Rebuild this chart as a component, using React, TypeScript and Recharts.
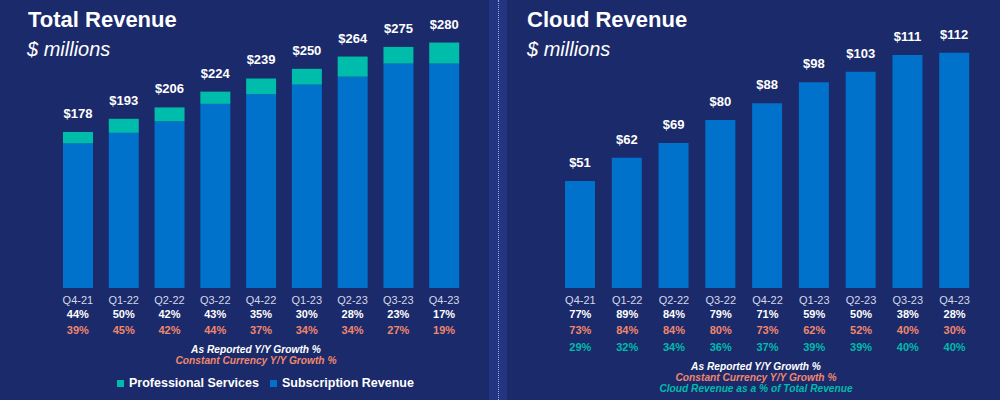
import { BarChart, Bar, XAxis, YAxis, LabelList } from 'recharts';

// quarters shared by both panels
const quarters = ['Q4-21', 'Q1-22', 'Q2-22', 'Q3-22', 'Q4-22', 'Q1-23', 'Q2-23', 'Q3-23', 'Q4-23'];

// Total revenue ($M)
const totalRevenue = [178, 193, 206, 224, 239, 250, 264, 275, 280];
const professionalServices = [13, 16, 16, 14, 18, 18, 23, 19, 24];
const totalGrowth = ['44%', '50%', '42%', '43%', '35%', '30%', '28%', '23%', '17%'];
const totalGrowthCC = ['39%', '45%', '42%', '44%', '37%', '34%', '34%', '27%', '19%'];

// Cloud revenue ($M)
const cloudRevenue = [51, 62, 69, 80, 88, 98, 103, 111, 112];
const cloudGrowth = ['77%', '89%', '84%', '79%', '71%', '59%', '50%', '38%', '28%'];
const cloudGrowthCC = ['73%', '84%', '84%', '80%', '73%', '62%', '52%', '40%', '30%'];
const cloudShare = ['29%', '32%', '34%', '36%', '37%', '39%', '39%', '40%', '40%'];

const BG = '#1b2a6b';
const BLUE = '#0172cb';
const TEAL = '#00bcab';
const SALMON = '#f0876c';
const FONT = '"Liberation Sans", Arial, sans-serif';

const totalData = quarters.map((q, i) => ({
  quarter: q,
  subscription: totalRevenue[i] - professionalServices[i],
  services: professionalServices[i],
  total: totalRevenue[i],
}));

const cloudData = quarters.map((q, i) => ({
  quarter: q,
  cloud: cloudRevenue[i],
}));

const dollar = (v: any) => '$' + v;

function makeTick(rows: { values: string[]; color: string }[]) {
  return (props: any) => {
    const { x, y, payload } = props;
    const i = payload.index;
    return (
      <g>
        <text x={x} y={y + 15.5} textAnchor="middle" fill="#d3d8ea" fontSize={11} fontFamily={FONT}>
          {payload.value}
        </text>
        {rows.map((r, k) => (
          <text key={k} x={x} y={y + 29.5 + k * 16.8} textAnchor="middle" fill={r.color}
            fontSize={11} fontWeight="bold" fontFamily={FONT}>
            {r.values[i]}
          </text>
        ))}
      </g>
    );
  };
}

const totalTick = makeTick([
  { values: totalGrowth, color: '#ffffff' },
  { values: totalGrowthCC, color: SALMON },
]);

const cloudTick = makeTick([
  { values: cloudGrowth, color: '#ffffff' },
  { values: cloudGrowthCC, color: SALMON },
  { values: cloudShare, color: TEAL },
]);

const title: React.CSSProperties = {
  position: 'absolute', fontFamily: FONT, fontWeight: 'bold', fontSize: 22, color: '#fff', margin: 0, lineHeight: 1,
};
const sub: React.CSSProperties = {
  position: 'absolute', fontFamily: FONT, fontStyle: 'italic', fontSize: 20, color: '#fff', lineHeight: 1,
};
const note: React.CSSProperties = {
  position: 'absolute', fontFamily: FONT, fontStyle: 'italic', fontWeight: 'bold', fontSize: 10.2,
  textAlign: 'center', width: 300, lineHeight: 1,
};

export default function App() {
  return (
    <div style={{ position: 'absolute', left: 0, top: 0, width: 1000, height: 400, background: BG, overflow: 'hidden' }}>
      {/* divider strip */}
      <div style={{ position: 'absolute', left: 489, top: 0, width: 18, height: 400, background: '#233480' }} />
      <div style={{ position: 'absolute', left: 497.5, top: 0, width: 0, height: 400, borderLeft: '1.5px dotted #9aa8dc' }} />

      <div style={{ ...title, left: 28, top: 9 }}>Total Revenue</div>
      <div style={{ ...sub, left: 27, top: 39 }}>$ millions</div>
      <div style={{ ...title, left: 527, top: 9 }}>Cloud Revenue</div>
      <div style={{ ...sub, left: 527, top: 39 }}>$ millions</div>

      <div style={{ position: 'absolute', left: 0, top: 0 }}>
        <BarChart width={490} height={400} data={totalData}
          margin={{ top: 25, right: 23, left: 55, bottom: 0 }} barCategoryGap={0}>
          <XAxis dataKey="quarter" axisLine={false} tickLine={false} tickSize={0} tickMargin={0}
            height={112} interval={0} tick={totalTick} />
          <YAxis hide domain={[0, 300]} />
          <Bar dataKey="subscription" stackId="a" fill={BLUE} barSize={30} isAnimationActive={false} />
          <Bar dataKey="services" stackId="a" fill={TEAL} barSize={30} isAnimationActive={false}>
            <LabelList dataKey="total" position="top" offset={14} formatter={dollar}
              fill="#fff" fontSize={13} fontWeight="bold" fontFamily={FONT} />
          </Bar>
        </BarChart>
      </div>

      <div style={{ position: 'absolute', left: 500, top: 0 }}>
        <BarChart width={500} height={400} data={cloudData}
          margin={{ top: 36, right: 22, left: 57, bottom: 0 }} barCategoryGap={0}>
          <XAxis dataKey="quarter" axisLine={false} tickLine={false} tickSize={0} tickMargin={0}
            height={112} interval={0} tick={cloudTick} />
          <YAxis hide domain={[0, 120]} />
          <Bar dataKey="cloud" fill={BLUE} barSize={30} isAnimationActive={false}>
            <LabelList dataKey="cloud" position="top" offset={14} formatter={dollar}
              fill="#fff" fontSize={13} fontWeight="bold" fontFamily={FONT} />
          </Bar>
        </BarChart>
      </div>

      <div style={{ ...note, left: 106, top: 345, color: '#fff' }}>As Reported Y/Y Growth %</div>
      <div style={{ ...note, left: 106, top: 356, color: SALMON }}>Constant Currency Y/Y Growth %</div>
      <div style={{ ...note, left: 606, top: 362, color: '#fff' }}>As Reported Y/Y Growth %</div>
      <div style={{ ...note, left: 606, top: 373, color: SALMON }}>Constant Currency Y/Y Growth %</div>
      <div style={{ ...note, left: 606, top: 384, color: TEAL }}>Cloud Revenue as a % of Total Revenue</div>

      <div style={{ position: 'absolute', left: 117, top: 376, fontFamily: FONT, fontWeight: 'bold', fontSize: 12.5, color: '#fff', display: 'flex', alignItems: 'center', whiteSpace: 'nowrap' }}>
        <span style={{ width: 7, height: 7, background: TEAL, marginRight: 5 }} />
        <span>Professional Services</span>
        <span style={{ width: 7, height: 7, background: BLUE, marginLeft: 11, marginRight: 5 }} />
        <span>Subscription Revenue</span>
      </div>
    </div>
  );
}
